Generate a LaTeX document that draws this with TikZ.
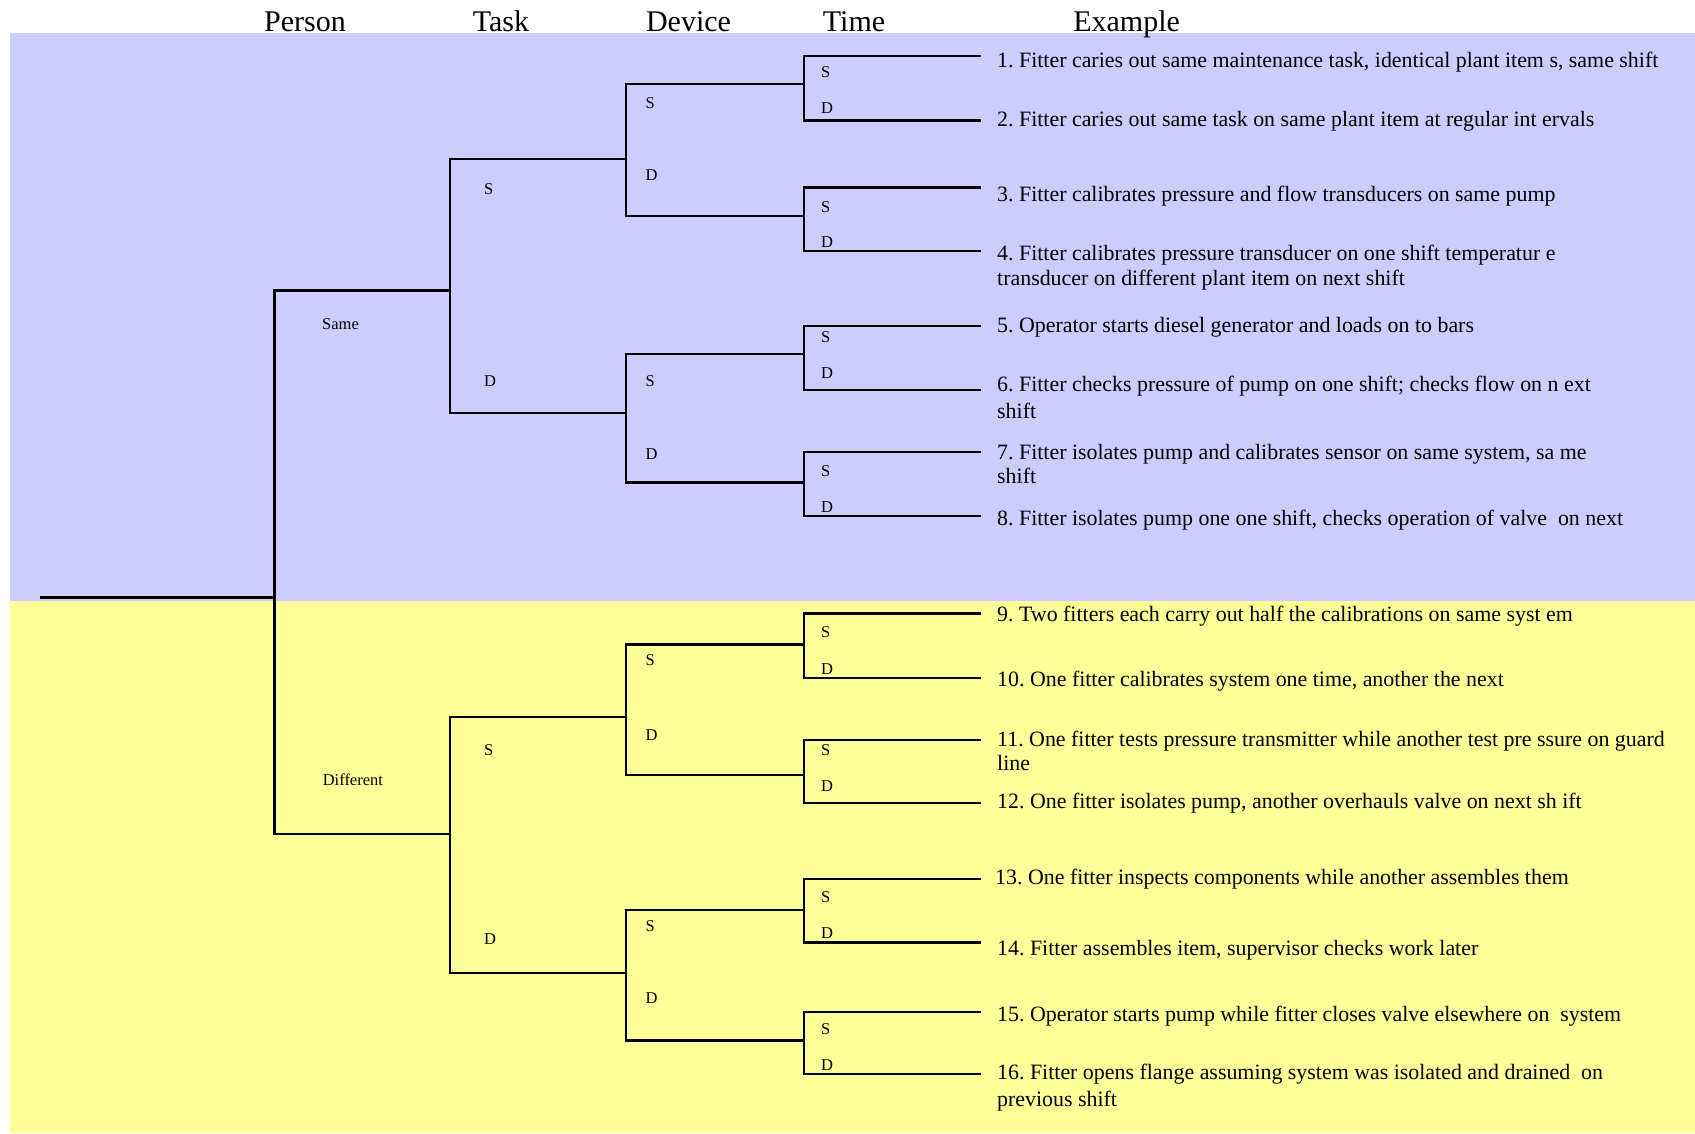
\documentclass[tikz,border=0pt]{standalone}
\usepackage{fontspec}
\setmainfont{Liberation Serif}[Ligatures=NoCommon]
\definecolor{samefill}{HTML}{CCCCFF}
\definecolor{difffill}{HTML}{FFFF99}
\frenchspacing
% two-line example text whose baseline is that of its first line
\newcommand\exlines[3]{\vtop{\baselineskip=#1pt\hbox{#2}\hbox{#3}}}
\begin{document}
\begin{tikzpicture}[x=1pt,y=-1pt,
  branch/.style={line width=2.4pt, line join=miter},
  head/.style={font=\fontsize{30}{34}\selectfont, inner sep=0pt, anchor=base},
  choice/.style={font=\fontsize{16.5}{18}\selectfont, inner sep=0pt, anchor=base west},
  example/.style={font=\fontsize{21.9}{25}\selectfont, inner sep=0pt, anchor=base west}]
\useasboundingbox (0,0) rectangle (1695,1133);

% background bands
\fill[samefill] (9.7,32.7) rectangle (1695,600.7);
\fill[difffill] (9.7,600.7) rectangle (1695,1133);

% column headings
\node[head] (hPerson)  at (305,31)    {Person};
\node[head] (hTask)    at (501,31)    {Task};
\node[head] (hDevice)  at (688.5,31)  {Device};
\node[head] (hTime)    at (854,31)    {Time};
\node[head] (hExample) at (1126.6,31) {Example};

% branch points
\coordinate (root) at (40,597.3);
\coordinate (P)    at (274.5,597.3);
\coordinate (s)    at (450,290.3);
\coordinate (d)    at (450,834);
\coordinate (sS)   at (626,159);
\coordinate (sD)   at (626,412.7);
\coordinate (dS)   at (626,716.9);
\coordinate (dD)   at (626,973);
\coordinate (sSS)  at (804,84);
\coordinate (sSD)  at (804,215.7);
\coordinate (sDS)  at (804,353.7);
\coordinate (sDD)  at (804,482.3);
\coordinate (dSS)  at (804,644.5);
\coordinate (dSD)  at (804,775);
\coordinate (dDS)  at (804,909.8);
\coordinate (dDD)  at (804,1040.3);
% leaf ends
\foreach \n/\y in {1/56,2/120.3,3/187.3,4/251,5/326,6/390,7/451.7,8/516,
                   9/613.5,10/678,11/739.8,12/803,13/878.8,14/942.3,15/1012,16/1073.8}
  \coordinate (l\n) at (981,\y);

% tree
\draw[branch] (root) -- (P);
\draw[branch] (s) -| (P);
\draw[branch] (d) -| (P);
\foreach \a/\b in {sS/s,sD/s,dS/d,dD/d,
                   sSS/sS,sSD/sS,sDS/sD,sDD/sD,dSS/dS,dSD/dS,dDS/dD,dDD/dD,
                   l1/sSS,l2/sSS,l3/sSD,l4/sSD,l5/sDS,l6/sDS,l7/sDD,l8/sDD,
                   l9/dSS,l10/dSS,l11/dSD,l12/dSD,l13/dDS,l14/dDS,l15/dDD,l16/dDD}
  \draw[branch] (\a) -| (\b);

% person labels
\node[choice] (same) at (322,329)   {Same};
\node[choice] (diff) at (322.6,785.3) {Different};

% task labels
\node[choice] (tS1) at (484,194.3) {S};
\node[choice] (tD1) at (484,386.7) {D};
\node[choice] (tS2) at (484,755.7) {S};
\node[choice] (tD2) at (484,944.4) {D};

% device labels
\node[choice] (vS1) at (645.5,108.3) {S};
\node[choice] (vD1) at (645.5,180)   {D};
\node[choice] (vS2) at (645.5,386)   {S};
\node[choice] (vD2) at (645.5,459)   {D};
\node[choice] (vS3) at (645.5,665.7) {S};
\node[choice] (vD3) at (645.5,740.5) {D};
\node[choice] (vS4) at (645.5,931)   {S};
\node[choice] (vD4) at (645.5,1003.3) {D};

% time labels
\foreach \n/\ys/\yd in {1/77.3/113.3,2/212/247.3,3/342.7/378.3,4/476.7/512.3,
                        5/637.5/674.5,6/755.3/791,7/902.7/938,8/1034/1070.3}{
  \node[choice] (mS\n) at (821,\ys) {S};
  \node[choice] (mD\n) at (821,\yd) {D};
}

% examples
\node[example] (ex1)  at (997,67.5)  {1. Fitter caries out same maintenance task, identical plant item s, same shift};
\node[example] (ex2)  at (997,126.7) {2. Fitter caries out same task on same plant item at regular int ervals};
\node[example] (ex3)  at (997,201)   {3. Fitter calibrates pressure and flow transducers on same pump};
\node[example] (ex4)  at (997,260)   {\exlines{25}{4. Fitter calibrates pressure transducer on one shift temperatur e}{transducer on different plant item on next shift}};
\node[example] (ex5)  at (997,332.3) {5. Operator starts diesel generator and loads on to bars};
\node[example] (ex6)  at (997,391.7) {\exlines{27}{6. Fitter checks pressure of pump on one shift; checks flow on n ext}{shift}};
\node[example] (ex7)  at (997,459)   {\exlines{24.5}{7. Fitter isolates pump and calibrates sensor on same system, sa me}{shift}};
\node[example] (ex8)  at (997,525.5) {8. Fitter isolates pump one one shift, checks operation of valve\ \ on next};
\node[example] (ex9)  at (997,621.7) {9. Two fitters each carry out half the calibrations on same syst em};
\node[example] (ex10) at (997,686.7) {10. One fitter calibrates system one time, another the next};
\node[example] (ex11) at (997,746.7) {\exlines{23.5}{11. One fitter tests pressure transmitter while another test pre ssure on guard}{line}};
\node[example] (ex12) at (997,808.3) {12. One fitter isolates pump, another overhauls valve on next sh ift};
\node[example] (ex13) at (995,884.3) {13. One fitter inspects components while another assembles them};
\node[example] (ex14) at (997,955)   {14. Fitter assembles item, supervisor checks work later};
\node[example] (ex15) at (997,1021.7) {15. Operator starts pump while fitter closes valve elsewhere on\ \ system};
\node[example] (ex16) at (997,1079.3) {\exlines{27.4}{16. Fitter opens flange assuming system was isolated and drained\ \ on}{previous shift}};
\end{tikzpicture}
\end{document}
